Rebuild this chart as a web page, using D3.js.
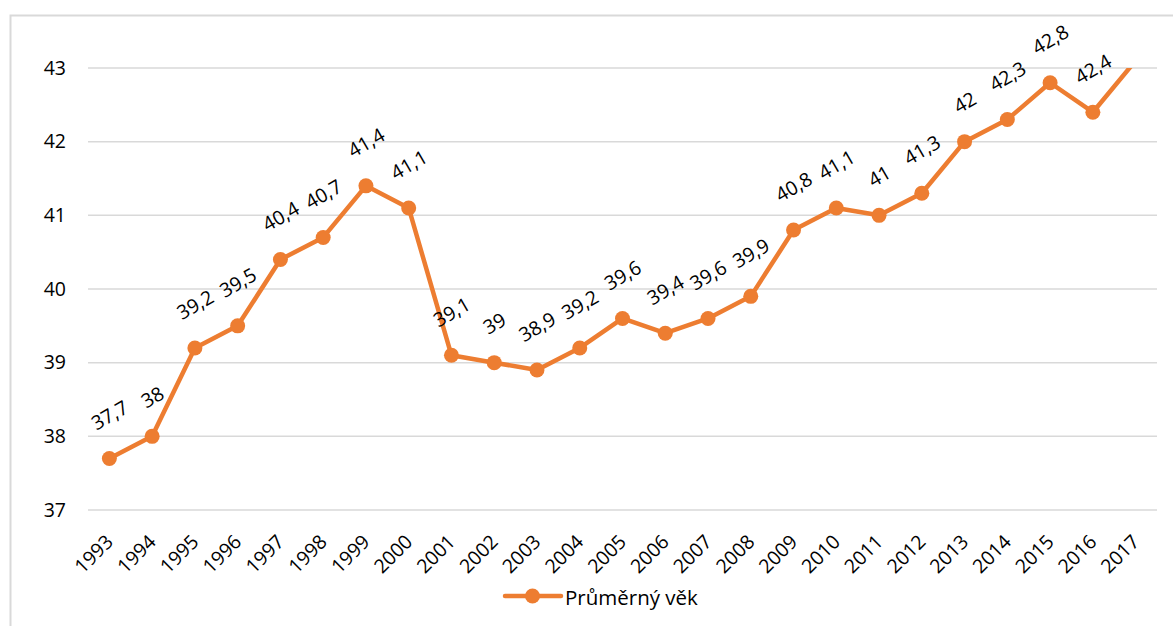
<!DOCTYPE html>
<html>
<head>
<meta charset="utf-8">
<script src="https://cdn.jsdelivr.net/npm/d3@7/dist/d3.min.js"></script>
<style>
  html, body { margin: 0; padding: 0; background: #fff; }
  svg { display: block; }
  text { font-family: "Open Sans", "Noto Sans", sans-serif; fill: #000; }
</style>
</head>
<body>
<svg id="chart" width="1173" height="626"></svg>
<script>
const years = ["1993","1994","1995","1996","1997","1998","1999","2000","2001","2002","2003","2004","2005","2006","2007","2008","2009","2010","2011","2012","2013","2014","2015","2016","2017"];
const values = [37.7,38,39.2,39.5,40.4,40.7,41.4,41.1,39.1,39,38.9,39.2,39.6,39.4,39.6,39.9,40.8,41.1,41,41.3,42,42.3,42.8,42.4,43.1];
const yTicks = [37,38,39,40,41,42,43];
const seriesName = "Průměrný věk";

const color = "#ED7D31";
const fs = 19.5;
const svg = d3.select("#chart");
const W = 1173, H = 626;

// chart border
svg.append("path")
  .attr("d", `M10.5,${H} V15.5 H${W}`)
  .attr("fill", "none").attr("stroke", "#d9d9d9").attr("stroke-width", 2);

const plot = { left: 88, right: 1157, top: 68, bottom: 510 };

const x = d3.scaleBand().domain(years).range([plot.left, plot.right]);
const y = d3.scaleLinear().domain([37, 43]).range([plot.bottom, plot.top]);

// gridlines
svg.append("g").selectAll("line").data(yTicks).join("line")
  .attr("x1", plot.left).attr("x2", plot.right)
  .attr("y1", d => y(d)).attr("y2", d => y(d))
  .attr("stroke", "#d9d9d9").attr("stroke-width", 1.5);

// y axis labels
const yAxis = d3.axisLeft(y).tickValues(yTicks).tickSize(0).tickPadding(0).tickFormat(d3.format("d"));
const gy = svg.append("g").attr("transform", `translate(66,0)`).call(yAxis);
gy.select(".domain").remove();
gy.selectAll("text").attr("font-size", fs).attr("font-family", "'Open Sans', sans-serif").attr("fill", "#000");

// x axis labels
const xAxis = d3.axisBottom(x).tickSize(0).tickPadding(0);
const gx = svg.append("g").attr("transform", `translate(0,${plot.bottom})`).call(xAxis);
gx.select(".domain").remove();
gx.selectAll("text")
  .attr("font-size", fs).attr("font-family", "'Open Sans', sans-serif").attr("fill", "#000")
  .attr("text-anchor", "end")
  .attr("dy", null).attr("y", null)
  .attr("transform", "translate(5,33) rotate(-45)");

// clip
svg.append("clipPath").attr("id", "clip").append("rect")
  .attr("x", plot.left).attr("y", plot.top).attr("width", plot.right - plot.left).attr("height", plot.bottom - plot.top);

const data = years.map((yr, i) => ({ yr, v: values[i] }));
const cx = d => x(d.yr) + x.bandwidth() / 2;

const line = d3.line().x(cx).y(d => y(d.v));
svg.append("path").datum(data)
  .attr("clip-path", "url(#clip)")
  .attr("d", line).attr("fill", "none")
  .attr("stroke", color).attr("stroke-width", 4.5).attr("stroke-linejoin", "round").attr("stroke-linecap", "round");

const visible = data.filter(d => d.v <= 43 && d.v >= 37);
svg.append("g").selectAll("circle").data(visible).join("circle")
  .attr("cx", cx).attr("cy", d => y(d.v)).attr("r", 7.5).attr("fill", color);

const fmt = v => String(v).replace(".", ",");
const labels = svg.append("g").selectAll("text").data(visible).join("text")
  .attr("text-anchor", "middle").attr("dominant-baseline", "central")
  .attr("font-size", fs)
  .text(d => fmt(d.v));
labels.each(function(d) {
  const L = this.getComputedTextLength();
  const boxH = 0.5 * L + 0.866 * 14;
  const off = 28 + boxH / 2;
  d3.select(this).attr("transform", `translate(${cx(d)},${y(d.v) - off}) rotate(-30)`);
});

// legend
const lg = svg.append("g").attr("transform", "translate(505,596)");
lg.append("line").attr("x1", 0).attr("x2", 56).attr("y1", 0).attr("y2", 0)
  .attr("stroke", color).attr("stroke-width", 4.5).attr("stroke-linecap", "round");
lg.append("circle").attr("cx", 27.5).attr("cy", 0).attr("r", 7.5).attr("fill", color);
lg.append("text").attr("x", 60).attr("y", 1).attr("dominant-baseline", "central")
  .attr("font-size", 20.5).text(seriesName);
</script>
</body>
</html>
